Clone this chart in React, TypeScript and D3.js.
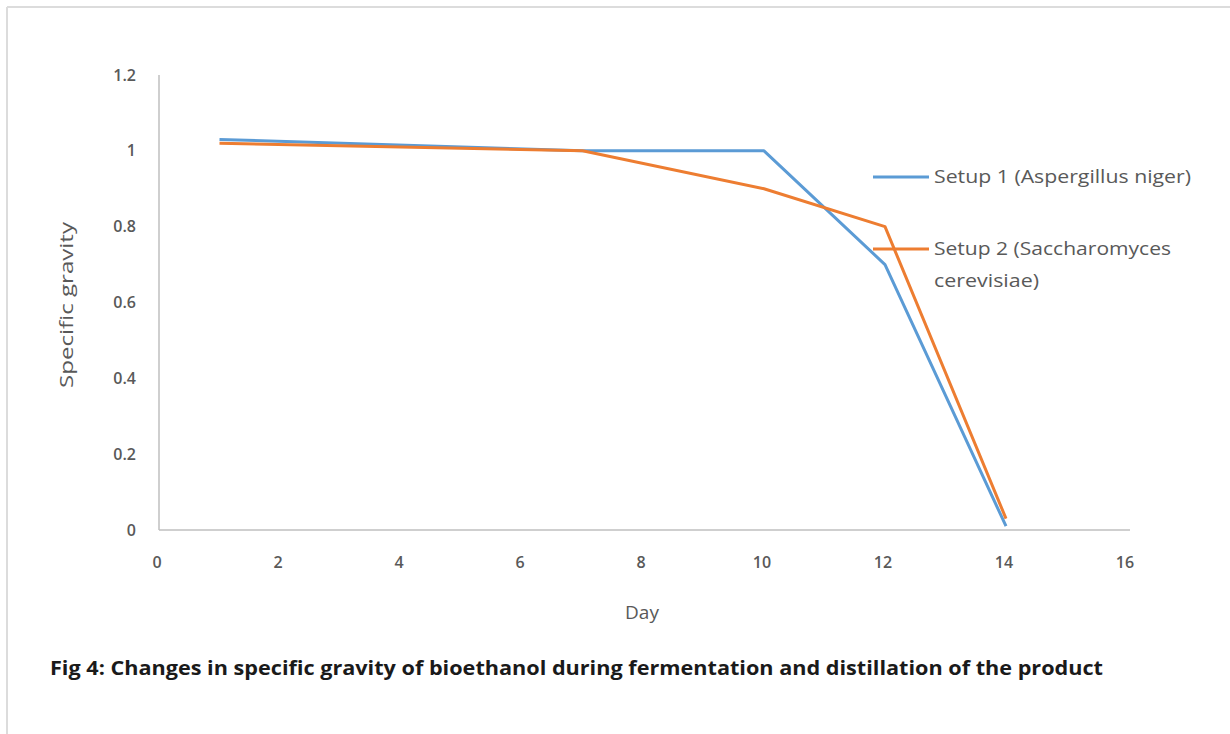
import React from "react";
import * as d3 from "d3";

const days = [1, 7, 10, 12, 14];
const setup1 = [1.03, 1.0, 1.0, 0.7, 0.01];
const setup2 = [1.02, 1.0, 0.9, 0.8, 0.03];
const xTicks = [0, 2, 4, 6, 8, 10, 12, 14, 16];
const yTicks = [0, 0.2, 0.4, 0.6, 0.8, 1, 1.2];
const seriesNames = ["Setup 1 (Aspergillus niger)", "Setup 2 (Saccharomyces", "cerevisiae)"];
const colors = ["#5B9BD5", "#ED7D31"];

const W = 1230;
const H = 734;
const FONT = "'Liberation Sans Narrow', 'Open Sans', Arial, sans-serif";

export default function App() {
  const x = d3.scaleLinear().domain([0, 16]).range([159, 1127]);
  const y = d3.scaleLinear().domain([0, 1.2]).range([530, 75]);
  const line = d3
    .line<[number, number]>()
    .x((d) => x(d[0]))
    .y((d) => y(d[1]));
  const s1 = days.map((d, i) => [d, setup1[i]] as [number, number]);
  const s2 = days.map((d, i) => [d, setup2[i]] as [number, number]);
  const tc = "#595959";

  return (
    <svg
      width={W}
      height={H}
      style={{ position: "absolute", left: 0, top: 0, background: "#fff" }}
    >
      <rect x={0} y={0} width={W} height={H} fill="#fff" />
      <line x1={7} y1={7} x2={W} y2={7} stroke="#dcdcdc" strokeWidth={2} />
      <line x1={7} y1={7} x2={7} y2={H} stroke="#dcdcdc" strokeWidth={2} />

      {/* axes */}
      <line x1={x(0)} y1={y(1.2)} x2={x(0)} y2={y(0)} stroke="#bfbfbf" strokeWidth={1.5} />
      <line x1={x(0)} y1={y(0)} x2={x(16) + 3} y2={y(0)} stroke="#bfbfbf" strokeWidth={1.5} />

      {yTicks.map((t) => (
        <text
          key={"y" + t}
          x={136}
          y={y(t)}
          dy="0.35em"
          textAnchor="end"
          fontFamily={FONT}
          fontSize={16}
          fontWeight={600}
          fill={tc}
        >
          {String(t)}
        </text>
      ))}
      {xTicks.map((t) => (
        <text
          key={"x" + t}
          x={x(t) - 2}
          y={562}
          dy="0.35em"
          textAnchor="middle"
          fontFamily={FONT}
          fontSize={16}
          fontWeight={600}
          fill={tc}
        >
          {String(t)}
        </text>
      ))}

      <text
        x={642}
        y={612}
        dy="0.35em"
        textAnchor="middle"
        fontFamily={FONT}
        fontSize={19}
        fill={tc}
      >
        Day
      </text>
      <text
        transform={`translate(66,305) rotate(-90)`}
        dy="0.35em"
        textAnchor="middle"
        fontFamily={FONT}
        fontSize={19}
        fill={tc}
        textLength={166}
        lengthAdjust="spacingAndGlyphs"
      >
        Specific gravity
      </text>

      <path d={line(s1) || ""} fill="none" stroke={colors[0]} strokeWidth={3} strokeLinejoin="round" />
      <path d={line(s2) || ""} fill="none" stroke={colors[1]} strokeWidth={3} strokeLinejoin="round" />

      {/* legend */}
      <line x1={873} y1={177} x2={929} y2={177} stroke={colors[0]} strokeWidth={3} />
      <text
        x={934}
        y={177}
        dy="0.35em"
        fontFamily={FONT}
        fontSize={18}
        fill={tc}
        textLength={257}
        lengthAdjust="spacingAndGlyphs"
      >
        {seriesNames[0]}
      </text>
      <line x1={873} y1={249} x2={929} y2={249} stroke={colors[1]} strokeWidth={3} />
      <text
        x={934}
        y={249}
        dy="0.35em"
        fontFamily={FONT}
        fontSize={18}
        fill={tc}
        textLength={237}
        lengthAdjust="spacingAndGlyphs"
      >
        {seriesNames[1]}
      </text>
      <text
        x={934}
        y={281}
        dy="0.35em"
        fontFamily={FONT}
        fontSize={18}
        fill={tc}
        textLength={105}
        lengthAdjust="spacingAndGlyphs"
      >
        {seriesNames[2]}
      </text>

      <text
        x={50}
        y={668}
        dy="0.35em"
        fontFamily={FONT}
        fontSize={20}
        fontWeight="bold"
        fill="#1a1a1a"
        textLength={1053}
        lengthAdjust="spacingAndGlyphs"
      >
        Fig 4: Changes in specific gravity of bioethanol during fermentation and distillation of the product
      </text>
    </svg>
  );
}
